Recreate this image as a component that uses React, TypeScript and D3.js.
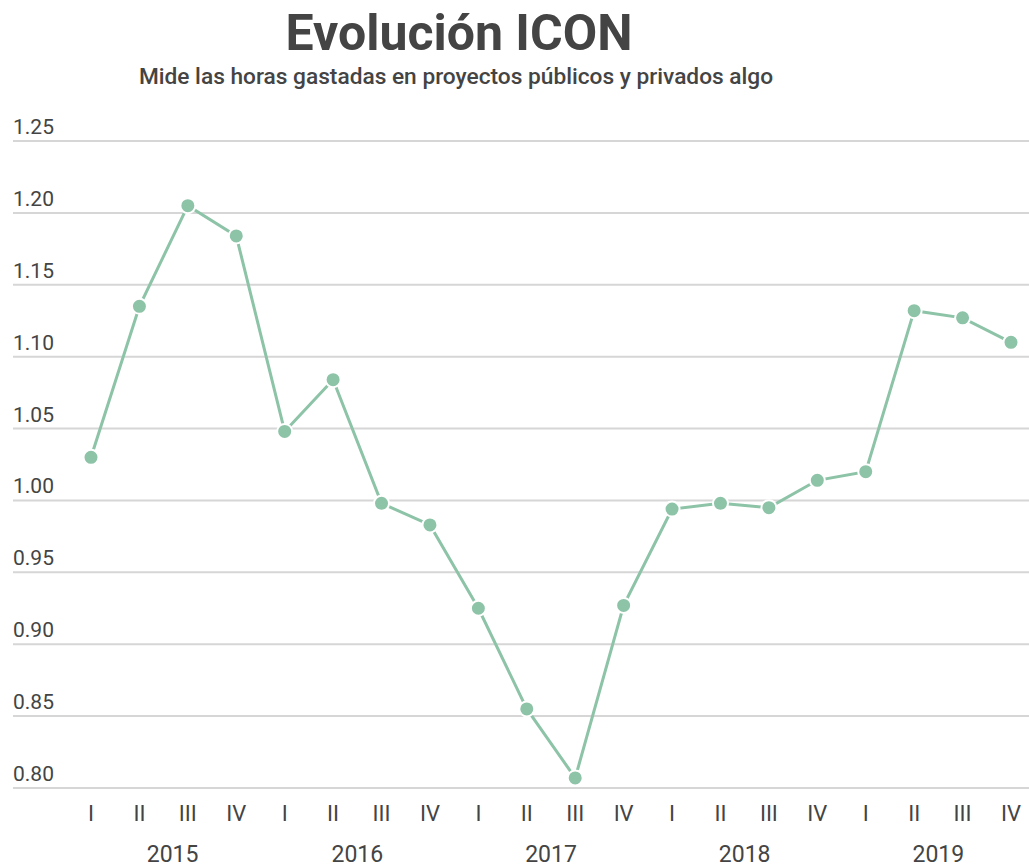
import React from 'react'
import * as d3 from 'd3'

const years = ['2015', '2016', '2017', '2018', '2019']
const quarters = ['I', 'II', 'III', 'IV']
const values = [
  1.03, 1.135, 1.205, 1.184,
  1.048, 1.084, 0.998, 0.983,
  0.925, 0.855, 0.807, 0.927,
  0.994, 0.998, 0.995, 1.014,
  1.02, 1.132, 1.127, 1.11,
]
const yTicks = [0.8, 0.85, 0.9, 0.95, 1.0, 1.05, 1.1, 1.15, 1.2, 1.25]

const W = 1029
const H = 866
const color = '#8dc3a7'
const textColor = '#444'

export default () => {
  const keys = years.flatMap((y) => quarters.map((q) => `${y}-${q}`))
  const x = d3.scalePoint().domain(keys).range([91, 1011])
  const y = d3.scaleLinear().domain([0.8, 1.25]).range([788, 141])

  const line = d3
    .line<number>()
    .x((_, i) => x(keys[i]) as number)
    .y((d) => y(d))

  return (
    <svg width={W} height={H} style={{ position: 'absolute', left: 0, top: 0, fontFamily: 'Roboto' }}>
      <text x={459} y={50} textAnchor="middle" fontSize={50} fontWeight="bold" fill={textColor}>
        Evolución ICON
      </text>
      <text x={456} y={84} textAnchor="middle" fontSize={22.7} fontWeight={500} fill={textColor}>
        Mide las horas gastadas en proyectos públicos y privados algo
      </text>

      {yTicks.map((t) => (
        <g key={t}>
          <line x1={13} x2={W} y1={y(t)} y2={y(t)} stroke="#d6d6d6" strokeWidth={2} />
          <text x={13} y={y(t) - 7} fontSize={21} fill={textColor}>
            {d3.format('.2f')(t)}
          </text>
        </g>
      ))}

      <path d={line(values) as string} fill="none" stroke={color} strokeWidth={3} />
      {values.map((v, i) => (
        <circle key={i} cx={x(keys[i])} cy={y(v)} r={7.5} fill={color} stroke="#fff" strokeWidth={2} />
      ))}

      {keys.map((k) => (
        <text key={k} x={x(k)} y={821} textAnchor="middle" fontSize={22} fill={textColor}>
          {k.split('-')[1]}
        </text>
      ))}
      {years.map((yr, i) => (
        <text
          key={yr}
          x={(((x(`${yr}-II`) as number) + (x(`${yr}-III`) as number)) / 2) + (i === 0 ? 9 : 0)}
          y={862}
          textAnchor="middle"
          fontSize={23}
          fill={textColor}
        >
          {yr}
        </text>
      ))}
    </svg>
  )
}
